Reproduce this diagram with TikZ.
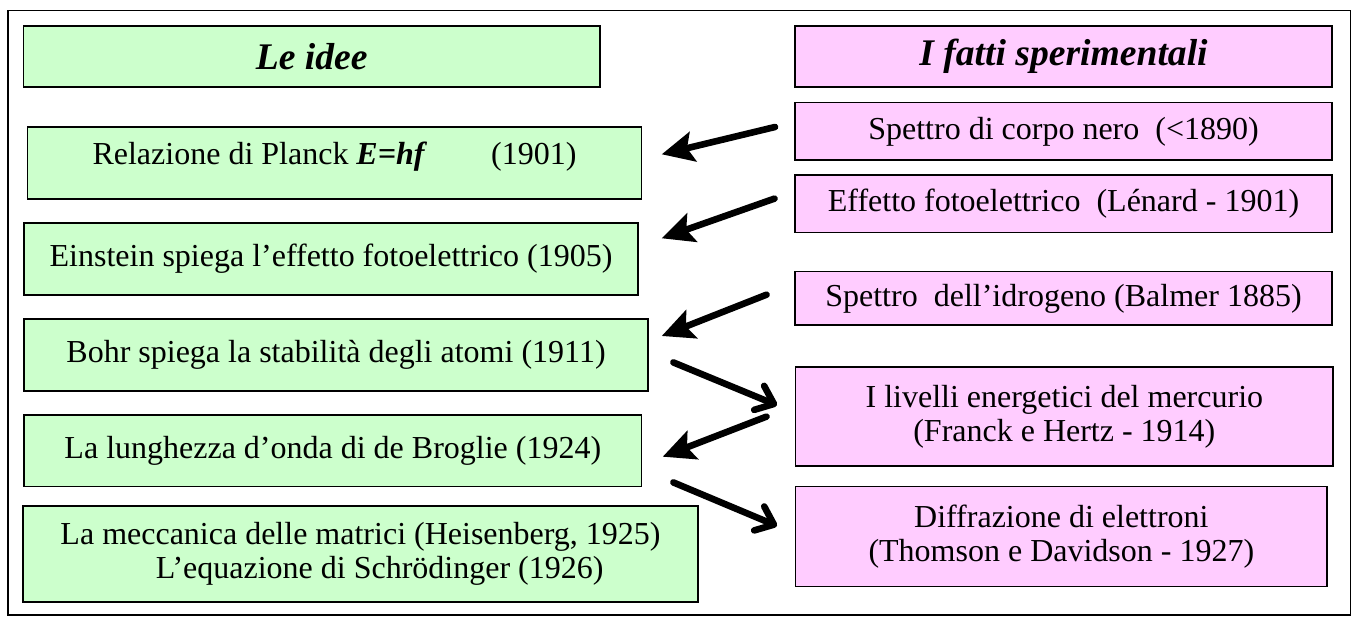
\documentclass[tikz,border=0pt]{standalone}
\usepackage{fontspec}
\setmainfont{Liberation Serif}
\usetikzlibrary{arrows.meta}
\definecolor{idee}{HTML}{CCFFCC}
\definecolor{fatti}{HTML}{FFCCFF}
\tikzset{
  box/.style={draw=black, line width=0.75pt, inner sep=0pt, align=center, font=\fontsize{16}{17}\selectfont},
  ideebox/.style={box, fill=idee},
  fattibox/.style={box, fill=fatti},
  txt/.style={inner sep=0pt, align=center, font=\fontsize{16}{17}\selectfont},
  titolo/.style={font=\fontsize{18.8}{22}\selectfont\bfseries\itshape},
  back/.style={line width=3.3pt, line cap=round, -{Stealth[length=16pt,width=15pt,inset=3pt]}},
  fwd/.style={line width=3.3pt, line cap=round, -{Straight Barb[length=8pt,width=13pt,line width=3.3pt,round]}},
}
\begin{document}
\begin{tikzpicture}[x=0.5pt,y=-0.5pt]
\useasboundingbox (0,0) rectangle (1354,616);
\draw[line width=0.75pt] (8,10.7) rectangle (1350.5,615);
% titles
\node[ideebox, titolo, minimum width=288.35pt, minimum height=30.5pt] (T1) at (311.7,56.5) {Le idee};
\node[fattibox, titolo, minimum width=268.5pt, minimum height=30.5pt] (T2) at (1063.5,56.5) {I fatti sperimentali};
% left boxes
\node[ideebox, minimum width=307.2pt, minimum height=36.15pt] (L1) at (334.5,162.9) {};
\node[txt] (L1t) at ([yshift=3pt]L1.center) {Relazione di Planck \textbf{\textit{E=hf}}\hspace{2em}(1901)};
\node[ideebox, minimum width=307pt, minimum height=36pt] (L2) at (331,259) {Einstein spiega l’effetto fotoelettrico (1905)};
\node[ideebox, minimum width=312pt, minimum height=36pt] (L3) at (336,355) {Bohr spiega la stabilità degli atomi (1911)};
\node[ideebox, minimum width=308.85pt, minimum height=35.85pt] (L4) at (332.85,450.85) {La lunghezza d’onda di de Broglie (1924)};
\node[ideebox, minimum width=337.5pt, minimum height=48pt] (L5) at (360.5,554) {La meccanica delle matrici (Heisenberg, 1925)\\\hspace{1.2em}L’equazione di Schrödinger (1926)};
% right boxes
\node[fattibox, minimum width=268.5pt, minimum height=28.65pt] (R1) at (1063.5,131.35) {Spettro di corpo nero\ \ (<1890)};
\node[fattibox, minimum width=268.5pt, minimum height=28.85pt] (R2) at (1063.5,203.85) {Effetto fotoelettrico\ \ (Lénard - 1901)};
\node[fattibox, minimum width=268.5pt, minimum height=26.65pt] (R3) at (1063.5,298.35) {Spettro\ \ dell’idrogeno (Balmer 1885)};
\node[fattibox, minimum width=268.65pt, minimum height=49.5pt] (R4) at (1064.35,416.5) {I livelli energetici del mercurio\\(Franck e Hertz - 1914)};
\node[fattibox, minimum width=265.65pt, minimum height=50pt] (R5) at (1061.35,536.7) {Diffrazione di elettroni\\(Thomson e Davidson - 1927)};
% arrow end points
\coordinate (a1s) at (775,127);    \coordinate (a1e) at (661.7,154.3);
\coordinate (a2s) at (774.5,198.6);\coordinate (a2e) at (661.7,238.3);
\coordinate (a3s) at (766.5,294.7);\coordinate (a3e) at (661.7,336);
\coordinate (a4s) at (673.3,362.4);\coordinate (a4e) at (777,405.2);
\coordinate (a5s) at (766.5,416.6);\coordinate (a5e) at (662.7,456.7);
\coordinate (a6s) at (673.3,482.4);\coordinate (a6e) at (777,525.9);
\draw[back] (a1s) -- (a1e);
\draw[back] (a2s) -- (a2e);
\draw[back] (a3s) -- (a3e);
\draw[fwd] (a4s) -- (a4e);
\draw[back] (a5s) -- (a5e);
\draw[fwd] (a6s) -- (a6e);
\end{tikzpicture}
\end{document}
